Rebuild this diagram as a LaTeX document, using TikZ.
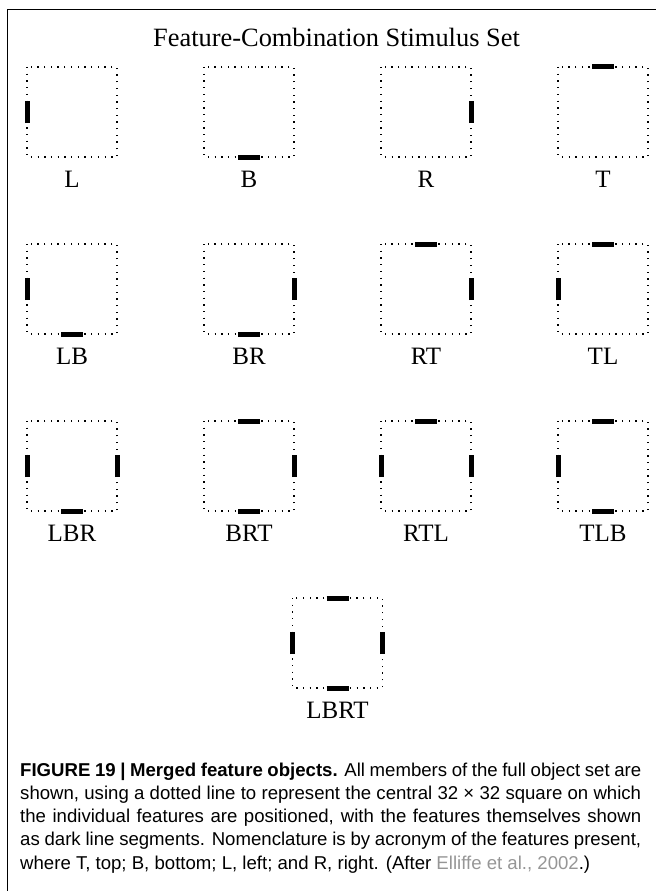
\documentclass[tikz,border=0pt]{standalone}
\usepackage{fontspec}
\setmainfont{Liberation Serif}
\newfontfamily\capfont{Liberation Sans}
\begin{document}
\begin{tikzpicture}[x=1pt,y=-1pt,
  frame/.style={line width=1.5pt},
  box/.style={draw=none, minimum size=90pt, inner sep=0pt, outer sep=0pt},
  dotsq/.style={line width=1.3pt, dash pattern=on 1.3pt off 5.4pt},
  feat/.style={line width=5pt},
  lab/.style={font=\fontsize{25}{30}\selectfont, anchor=base, inner sep=0pt},
  title/.style={font=\fontsize{26.4}{31}\selectfont, anchor=base, inner sep=0pt},
  capline/.style={font=\capfont\fontsize{18.6}{23}\selectfont, anchor=base west, inner sep=0pt}]
\useasboundingbox (0,0) rectangle (656,891);
\definecolor{refgray}{RGB}{150,150,150}
\newcommand\mkstim[4]{%
  \node[box] (#1) at (#2,#3) {};
  \draw[dotsq] (#1.north west) rectangle (#1.south east);
  \node[lab] (#1-lab) at ([yshift=-30.5pt]#1.south) {#4};}
\newcommand\fL[1]{\draw[feat] ([yshift=-11pt]#1.west) -- ([yshift=11pt]#1.west);}
\newcommand\fR[1]{\draw[feat] ([yshift=-11pt]#1.east) -- ([yshift=11pt]#1.east);}
\newcommand\fT[1]{\draw[feat] ([xshift=-11pt]#1.north) -- ([xshift=11pt]#1.north);}
\newcommand\fB[1]{\draw[feat] ([xshift=-11pt]#1.south) -- ([xshift=11pt]#1.south);}

\draw[frame] (7.5,891) -- (7.5,9.5) -- (656,9.5);
\node[title] (ttl) at (336.5,47) {Feature-Combination Stimulus Set};

% row 1
\mkstim{s1}{72}{112}{L}\fL{s1}
\mkstim{s2}{249}{112}{B}\fB{s2}
\mkstim{s3}{426}{112}{R}\fR{s3}
\mkstim{s4}{603}{112}{T}\fT{s4}
% row 2
\mkstim{s5}{72}{289}{LB}\fL{s5}\fB{s5}
\mkstim{s6}{249}{289}{BR}\fB{s6}\fR{s6}
\mkstim{s7}{426}{289}{RT}\fR{s7}\fT{s7}
\mkstim{s8}{603}{289}{TL}\fT{s8}\fL{s8}
% row 3
\mkstim{s9}{72}{466}{LBR}\fL{s9}\fB{s9}\fR{s9}
\mkstim{s10}{249}{466}{BRT}\fB{s10}\fR{s10}\fT{s10}
\mkstim{s11}{426}{466}{RTL}\fR{s11}\fT{s11}\fL{s11}
\mkstim{s12}{603}{466}{TLB}\fT{s12}\fL{s12}\fB{s12}
% row 4
\mkstim{s13}{337.5}{643}{LBRT}\fL{s13}\fB{s13}\fR{s13}\fT{s13}

% caption
\node[capline] (c1) at (20,776) {\hbox to 621pt{\bfseries FIGURE 19 | Merged feature objects.\mdseries{} All members of the full object set are}};
\node[capline] (c2) at (20,799.3) {\hbox to 621pt{shown, using a dotted line to represent the central 32 × 32 square on which}};
\node[capline] (c3) at (20,822.6) {\hbox to 621pt{the individual features are positioned, with the features themselves shown}};
\node[capline] (c4) at (20,845.9) {\hbox to 621pt{as dark line segments. Nomenclature is by acronym of the features present,}};
\node[capline] (c5) at (20,869.2) {where T, top; B, bottom; L, left; and R, right. (After \textcolor{refgray}{Elliffe et al., 2002}.)};
\end{tikzpicture}
\end{document}
